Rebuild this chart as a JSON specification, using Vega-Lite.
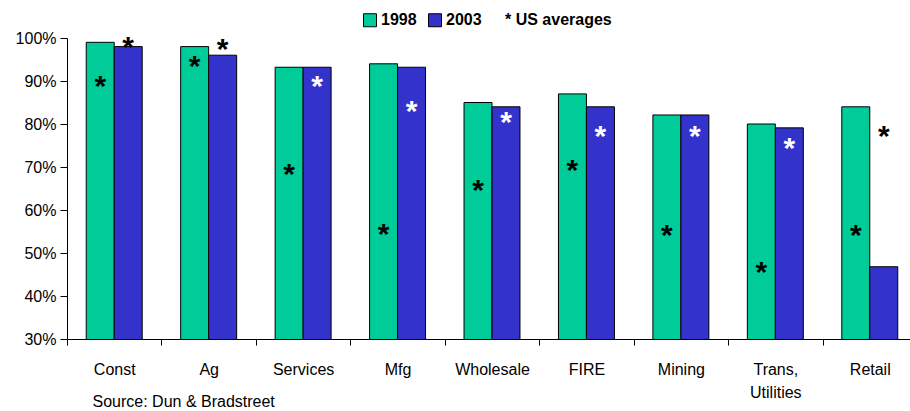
{
  "$schema": "https://vega.github.io/schema/vega-lite/v6.json",
  "autosize": {"type": "none"},
  "padding": {"left": 67, "top": 38, "right": 0, "bottom": 72},
  "width": 850,
  "height": 301,
  "background": "white",
  "config": {
    "view": {"stroke": null},
    "font": "Liberation Sans",
    "legend": {
      "orient": "none",
      "legendX": 295,
      "legendY": -26,
      "direction": "horizontal",
      "padding": 0,
      "symbolType": "square",
      "symbolSize": 169,
      "symbolStrokeColor": "black",
      "symbolStrokeWidth": 1,
      "symbolOpacity": 1,
      "labelFontSize": 16,
      "labelFontWeight": "bold",
      "labelColor": "black",
      "labelOffset": 3,
      "columnPadding": 9
    }
  },
  "title": {
    "text": "*  US averages",
    "anchor": "start",
    "frame": "group",
    "dx": 438,
    "offset": -16,
    "fontSize": 16,
    "fontWeight": "bold",
    "color": "black"
  },
  "data": {
    "values": [
      {"industry": "Const", "year": "1998", "value": 99, "star": 89.8},
      {"industry": "Const", "year": "2003", "value": 98, "star": 98.8},
      {"industry": "Ag", "year": "1998", "value": 98, "star": 94.5},
      {"industry": "Ag", "year": "2003", "value": 96, "star": 98.4},
      {"industry": "Services", "year": "1998", "value": 93.2, "star": 69.3},
      {"industry": "Services", "year": "2003", "value": 93.2, "star": 89.8},
      {"industry": "Mfg", "year": "1998", "value": 94, "star": 55.3},
      {"industry": "Mfg", "year": "2003", "value": 93.2, "star": 84},
      {"industry": "Wholesale", "year": "1998", "value": 85, "star": 65.6},
      {"industry": "Wholesale", "year": "2003", "value": 84, "star": 81.4},
      {"industry": "FIRE", "year": "1998", "value": 87, "star": 70.2},
      {"industry": "FIRE", "year": "2003", "value": 84, "star": 78.1},
      {"industry": "Mining", "year": "1998", "value": 82.1, "star": 55.1},
      {"industry": "Mining", "year": "2003", "value": 82.1, "star": 78.2},
      {"industry": "Trans,|Utilities", "year": "1998", "value": 80, "star": 46.4},
      {"industry": "Trans,|Utilities", "year": "2003", "value": 79.1, "star": 75.3},
      {"industry": "Retail", "year": "1998", "value": 84, "star": 55.1},
      {"industry": "Retail", "year": "2003", "value": 46.8, "star": 78.2}
    ]
  },
  "encoding": {
    "x": {
      "field": "industry",
      "type": "nominal",
      "sort": null,
      "scale": {"paddingInner": 0, "paddingOuter": 0},
      "axis": {
        "title": "Source: Dun & Bradstreet",
        "titleX": 25,
        "titleY": 54,
        "titleAlign": "left",
        "titleBaseline": "top",
        "titleFontSize": 16,
        "titleFontWeight": "normal",
        "titleColor": "black",
        "labelAngle": 0,
        "labelFontSize": 16,
        "labelColor": "black",
        "labelPadding": 16,
        "labelLineHeight": 23,
        "labelExpr": "split(datum.label, '|')",
        "tickBand": "extent",
        "tickSize": 6,
        "tickColor": "black",
        "domainColor": "black",
        "grid": false
      }
    },
    "xOffset": {
      "field": "year",
      "type": "nominal",
      "scale": {"paddingInner": 0, "paddingOuter": 0.6875}
    }
  },
  "layer": [
    {
      "mark": {"type": "bar", "stroke": "black", "strokeWidth": 1, "clip": true},
      "encoding": {
        "y": {
          "field": "value",
          "type": "quantitative",
          "scale": {"domain": [30, 100], "nice": false, "zero": false},
          "axis": {
            "title": null,
            "values": [30, 40, 50, 60, 70, 80, 90, 100],
            "labelExpr": "datum.value + '%'",
            "labelFontSize": 16,
            "labelColor": "black",
            "labelPadding": 4,
            "tickSize": 7,
            "tickColor": "black",
            "domainColor": "black",
            "grid": false
          }
        },
        "color": {
          "field": "year",
          "type": "nominal",
          "scale": {"domain": ["1998", "2003"], "range": ["#00CC99", "#3333CC"]},
          "legend": {"title": null}
        }
      }
    },
    {
      "mark": {"type": "text", "text": "*", "fontSize": 30, "fontWeight": "bold", "dy": 14, "baseline": "alphabetic"},
      "encoding": {
        "y": {"field": "star", "type": "quantitative"},
        "color": {
          "condition": {"test": "datum.year == '2003' && datum.star < datum.value", "value": "white"},
          "value": "black"
        }
      }
    }
  ]
}
